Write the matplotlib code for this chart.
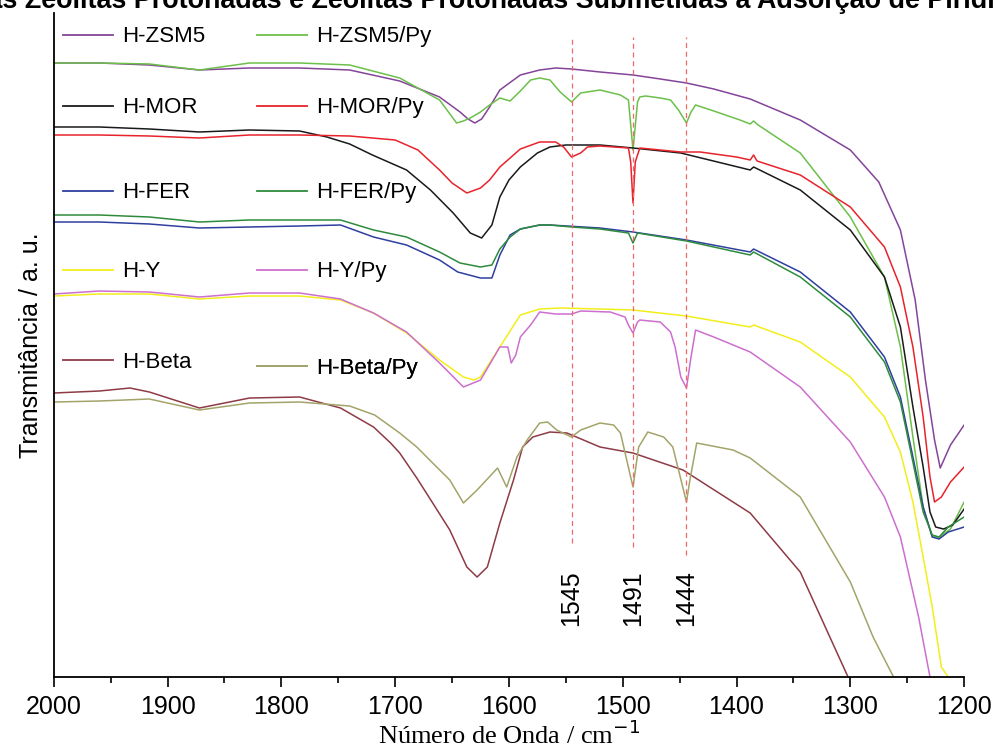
import numpy as np
import matplotlib.pyplot as plt
from matplotlib.lines import Line2D

# espectros de IV (número de onda em cm-1, transmitância em unidades arbitrárias)
wn_zsm5 = [2000, 1960, 1916, 1872, 1828, 1784, 1740, 1696, 1661, 1643, 1636, 1630, 1624,
           1617, 1608, 1590, 1573, 1559, 1545, 1520, 1491, 1467, 1444, 1420, 1388, 1344,
           1300, 1275, 1256, 1243, 1234, 1226, 1221, 1212, 1200]
tr_zsm5 = [614, 614, 612, 607, 609, 609, 607, 596, 580, 565, 558, 554, 558,
           570, 587, 602, 607, 609, 608, 605, 602, 598, 594, 588, 578, 557,
           527, 495, 447, 377, 297, 237, 209, 232, 252]

wn_zsm5py = [2000, 1960, 1916, 1872, 1828, 1784, 1740, 1696, 1661, 1646, 1640, 1634, 1625,
             1617, 1608, 1599, 1590, 1581, 1573, 1564, 1555, 1545, 1537, 1520, 1502, 1495,
             1491, 1487, 1485, 1480, 1467, 1458, 1451, 1444, 1440, 1436, 1420, 1397, 1388,
             1385, 1381, 1344, 1300, 1270, 1256, 1245, 1236, 1228, 1222, 1212, 1200]
tr_zsm5py = [614, 614, 613, 607, 614, 614, 612, 599, 577, 554, 556, 559, 565,
             572, 579, 576, 586, 597, 599, 597, 585, 575, 584, 587, 582, 577,
             527, 575, 580, 581, 579, 577, 567, 554, 565, 572, 566, 557, 553,
             556, 552, 524, 460, 400, 330, 240, 170, 140, 140, 148, 175]

wn_mor = [2000, 1960, 1916, 1872, 1828, 1784, 1760, 1740, 1720, 1690, 1669, 1649, 1634,
          1624, 1615, 1608, 1600, 1590, 1575, 1564, 1550, 1520, 1491, 1449, 1388, 1385,
          1344, 1300, 1270, 1256, 1245, 1236, 1230, 1225, 1218, 1210, 1200]
tr_mor = [550, 550, 548, 545, 547, 546, 540, 533, 522, 507, 487, 464, 444,
          439, 452, 480, 497, 510, 524, 530, 532, 532, 529, 524, 507, 510,
          487, 447, 400, 350, 270, 210, 165, 150, 148, 152, 168]

wn_morpy = [2000, 1960, 1916, 1872, 1828, 1784, 1740, 1700, 1680, 1661, 1650, 1637, 1625,
            1617, 1608, 1590, 1573, 1559, 1552, 1545, 1537, 1531, 1520, 1495, 1493, 1491,
            1489, 1485, 1467, 1449, 1432, 1400, 1388, 1385, 1382, 1344, 1300, 1270, 1256,
            1245, 1236, 1230, 1226, 1220, 1212, 1200]
tr_morpy = [542, 542, 541, 539, 542, 542, 541, 537, 527, 507, 494, 484, 489,
            497, 510, 528, 535, 535, 530, 520, 524, 530, 531, 529, 515, 474,
            515, 529, 527, 525, 525, 520, 517, 522, 516, 502, 470, 430, 390,
            330, 260, 200, 175, 180, 195, 210]

wn_fer = [2000, 1960, 1916, 1872, 1828, 1784, 1748, 1719, 1690, 1661, 1645, 1625, 1615,
          1608, 1599, 1590, 1573, 1564, 1520, 1491, 1444, 1388, 1385, 1344, 1300, 1270,
          1256, 1245, 1236, 1228, 1222, 1214, 1200]
tr_fer = [455, 455, 453, 449, 450, 451, 452, 440, 432, 417, 405, 399, 399,
          422, 442, 448, 452, 452, 449, 445, 437, 425, 428, 405, 365, 320,
          280, 220, 170, 140, 138, 145, 150]

wn_ferpy = [2000, 1960, 1916, 1872, 1828, 1784, 1748, 1719, 1690, 1661, 1643, 1625, 1615,
            1608, 1599, 1590, 1573, 1564, 1545, 1520, 1495, 1491, 1487, 1444, 1388, 1385,
            1344, 1300, 1270, 1256, 1245, 1236, 1228, 1222, 1214, 1200]
tr_ferpy = [462, 462, 460, 455, 457, 457, 457, 447, 440, 425, 414, 410, 412,
            428, 440, 448, 452, 452, 450, 448, 444, 434, 444, 436, 422, 425,
            400, 360, 315, 275, 215, 165, 142, 140, 150, 160]

wn_y = [2000, 1960, 1916, 1872, 1828, 1784, 1748, 1719, 1690, 1661, 1640, 1631, 1625,
        1608, 1590, 1573, 1555, 1520, 1491, 1444, 1388, 1385, 1344, 1300, 1270, 1256,
        1245, 1236, 1228, 1220, 1214]
tr_y = [381, 383, 383, 378, 381, 381, 377, 364, 344, 317, 300, 297, 300,
        330, 362, 368, 369, 368, 367, 361, 350, 352, 335, 300, 260, 225,
        175, 120, 70, 10, 0]

wn_ypy = [2000, 1960, 1916, 1872, 1828, 1784, 1748, 1719, 1690, 1661, 1640, 1625, 1608,
          1601, 1598, 1594, 1590, 1581, 1573, 1559, 1545, 1537, 1511, 1498, 1495, 1491,
          1487, 1485, 1467, 1458, 1454, 1449, 1444, 1440, 1436, 1420, 1388, 1344, 1300,
          1270, 1256, 1240, 1230]
tr_ypy = [383, 386, 385, 380, 384, 384, 378, 364, 345, 314, 290, 297, 330,
          330, 314, 322, 340, 352, 365, 363, 363, 366, 365, 360, 352, 344,
          355, 357, 355, 345, 330, 300, 289, 320, 347, 340, 325, 290, 235,
          180, 140, 60, 0]

wn_beta = [2000, 1960, 1933, 1916, 1872, 1828, 1784, 1748, 1719, 1704, 1696, 1681, 1667,
           1652, 1637, 1628, 1619, 1608, 1596, 1588, 1579, 1564, 1549, 1520, 1491, 1447,
           1388, 1344, 1310, 1302]
tr_beta = [284, 286, 289, 285, 269, 279, 280, 269, 250, 234, 224, 199, 174,
           147, 110, 100, 110, 154, 197, 230, 240, 245, 244, 230, 224, 207,
           164, 105, 20, 0]

wn_betapy = [2000, 1960, 1916, 1872, 1828, 1784, 1740, 1718, 1696, 1681, 1667, 1652, 1640,
             1628, 1610, 1602, 1593, 1584, 1573, 1566, 1558, 1545, 1537, 1520, 1508, 1502,
             1491, 1486, 1478, 1464, 1456, 1444, 1441, 1435, 1403, 1388, 1344, 1300, 1280,
             1262]
tr_betapy = [275, 276, 278, 267, 274, 275, 271, 262, 244, 230, 214, 197, 174,
             187, 209, 190, 220, 237, 254, 255, 247, 240, 247, 254, 252, 244,
             190, 230, 245, 240, 230, 175, 197, 234, 227, 219, 180, 95, 40,
             0]

series = [
    ('H-ZSM5', wn_zsm5, tr_zsm5, '#84449A'),
    ('H-ZSM5/Py', wn_zsm5py, tr_zsm5py, '#6CC04A'),
    ('H-MOR', wn_mor, tr_mor, '#1A1A1A'),
    ('H-MOR/Py', wn_morpy, tr_morpy, '#E8232B'),
    ('H-FER', wn_fer, tr_fer, '#2F3F9F'),
    ('H-FER/Py', wn_ferpy, tr_ferpy, '#2E8B3C'),
    ('H-Y', wn_y, tr_y, '#F2EE1C'),
    ('H-Y/Py', wn_ypy, tr_ypy, '#CC6FCF'),
    ('H-Beta', wn_beta, tr_beta, '#8E3B46'),
    ('H-Beta/Py', wn_betapy, tr_betapy, '#A3A46A'),
]

# bandas da piridina adsorvida
bandas = [1545, 1491, 1444]
banda_topo = [640, 640, 640]
banda_base = [134, 130, 122]

plt.rcParams['font.family'] = ['Liberation Sans', 'DejaVu Sans']

fig = plt.figure(figsize=(9.96, 7.51), dpi=100)
ax = fig.add_axes([0.054, 0.0985, 0.914, 0.8842])

handles = {}
for nome, wn, tr, cor in series:
    h, = ax.plot(wn, tr, color=cor, lw=1.1)
    handles[nome] = h

for b, y0, y1 in zip(bandas, banda_base, banda_topo):
    ax.plot([b, b], [y0, y1], color='#F06A6A', lw=0.9, ls=(0, (4, 3)))
    ax.text(b, 107, str(b), rotation=90, ha='center', va='top', fontsize=18)

ax.set_xlim(2000, 1200)
ax.set_ylim(0, 664)
ax.set_xticks(np.arange(2000, 1199, -100))
ax.set_xticks(np.arange(1950, 1200, -100), minor=True)
ax.tick_params(axis='x', which='major', direction='out', length=7, width=1.2, labelsize=18, pad=6)
ax.tick_params(axis='x', which='minor', direction='out', length=4, width=1.2)
ax.set_yticks([])
for s in ['top', 'right']:
    ax.spines[s].set_visible(False)
for s in ['left', 'bottom']:
    ax.spines[s].set_linewidth(1.3)

ax.set_xlabel('Número de Onda / cm$^{-1}$', family='Liberation Serif', fontsize=19, labelpad=1)
ax.set_ylabel('Transmitância / a. u.', fontsize=18, labelpad=8)

# legenda em pares, uma entrada por caixa
legenda = [
    ('H-ZSM5', 0.0099, 0.964), ('H-ZSM5/Py', 0.223, 0.964),
    ('H-MOR', 0.0099, 0.857), ('H-MOR/Py', 0.223, 0.857),
    ('H-FER', 0.0099, 0.729), ('H-FER/Py', 0.223, 0.729),
    ('H-Y', 0.0099, 0.610), ('H-Y/Py', 0.223, 0.610),
    ('H-Beta', 0.0099, 0.474), ('H-Beta/Py', 0.223, 0.465),
]
for nome, xf, yf in legenda:
    h = handles[nome]
    lg = ax.legend([Line2D([], [], color=h.get_color(), lw=1.3)], [nome],
                   loc='center left', bbox_to_anchor=(xf, yf), frameon=False,
                   fontsize=16, handlelength=2.25, handletextpad=0.4,
                   borderpad=0, borderaxespad=0)
    ax.add_artist(lg)

fig.text(-0.0296, 0.9895, 'das Zeólitas Protonadas e Zeólitas Protonadas Submetidas à Adsorção de Piridina',
         ha='left', va='baseline', fontsize=19.4, fontweight='bold')

fig.savefig('out.png', dpi=100)
